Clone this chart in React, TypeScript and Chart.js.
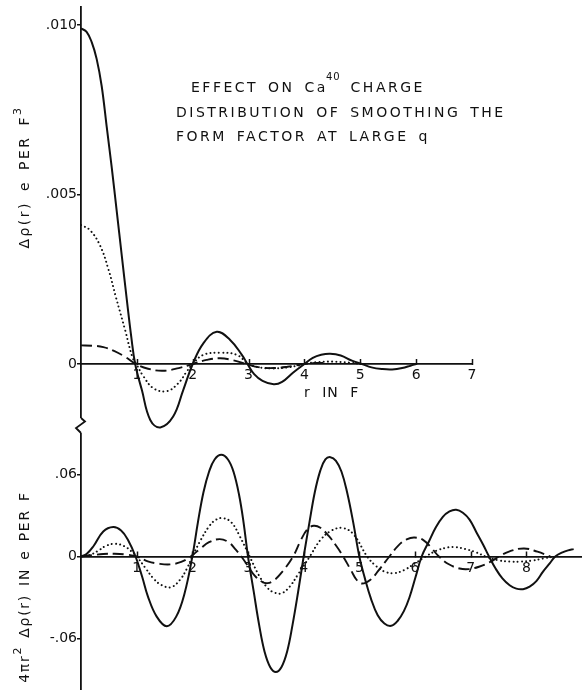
import React, { useEffect, useRef } from 'react';
import { Chart, registerables } from 'chart.js';

Chart.register(...registerables);

const FONT = 'DejaVu Sans';
const INK = '#111111';

// ---------- Top panel: Δρ(r) in e per F^3, r in F ----------
const topXTicks = [1, 2, 3, 4, 5, 6, 7];
const topYTicks = [0, 0.005, 0.01];
const topYTickLabels = ['0', '.005', '.010'];

const topSolid: [number, number][] = [
  [0, 0.0099], [0.1, 0.0098], [0.19, 0.0095], [0.28, 0.009], [0.37, 0.0082], [0.46, 0.007],
  [0.55, 0.0058], [0.64, 0.0045], [0.73, 0.0032], [0.82, 0.0019], [0.9, 0.0008], [0.97, 0],
  [1.09, -0.00077], [1.24, -0.00165], [1.42, -0.00187], [1.65, -0.00155], [1.83, -0.00077], [2.0, 0],
  [2.19, 0.00061], [2.43, 0.00095], [2.67, 0.00071], [2.88, 0.00027], [2.98, 0],
  [3.1, -0.0003], [3.25, -0.0005], [3.45, -0.0006], [3.6, -0.00053], [3.8, -0.00025], [4.0, 0],
  [4.15, 0.00018], [4.3, 0.00027], [4.46, 0.0003], [4.65, 0.00025], [4.85, 0.0001], [5.03, 0],
  [5.2, -0.0001], [5.4, -0.00015], [5.57, -0.00016], [5.75, -0.00012], [5.9, -0.00005], [6.0, 0],
];

const topDotted: [number, number][] = [
  [0, 0.0041], [0.16, 0.00395], [0.34, 0.0035], [0.49, 0.0028], [0.62, 0.002], [0.79, 0.001],
  [0.92, 0.0002], [0.99, 0], [1.12, -0.00037], [1.3, -0.00072], [1.54, -0.0008], [1.74, -0.00057],
  [1.89, -0.00023], [2.0, 0], [2.19, 0.00027], [2.49, 0.00033], [2.79, 0.00027], [3.0, 0],
  [3.2, -0.0001], [3.45, -0.00013], [3.7, -0.0001], [3.88, -0.00005], [4.0, 0],
  [4.2, 0.00005], [4.5, 0.00007], [4.8, 0.00004], [5.0, 0],
];

const topDashed: [number, number][] = [
  [0, 0.00055], [0.2, 0.00054], [0.4, 0.0005], [0.6, 0.00038], [0.8, 0.0002], [0.98, 0],
  [1.2, -0.00014], [1.47, -0.0002], [1.75, -0.00012], [2.0, 0], [2.25, 0.00012], [2.49, 0.00017],
  [2.75, 0.0001], [2.95, 0], [3.2, -0.0001], [3.45, -0.00012], [3.7, -0.00008], [4.0, 0],
  [4.2, 0.00003], [4.4, 0.00003],
];

// ---------- Bottom panel: 4πr² Δρ(r) in e per F ----------
const botXTicks = [1, 2, 3, 4, 5, 6, 7, 8];
const botYTicks = [-0.06, 0, 0.06];
const botYTickLabels = ['-.06', '0', '.06'];

const botSolid: [number, number][] = [
  [0, 0], [0.1, 0.0018], [0.22, 0.0073], [0.4, 0.0183], [0.58, 0.0215], [0.72, 0.019], [0.84, 0.0125],
  [0.98, 0], [1.1, -0.015], [1.2, -0.029], [1.36, -0.044], [1.54, -0.051], [1.71, -0.044],
  [1.86, -0.027], [2.0, 0], [2.1, 0.025], [2.2, 0.047], [2.3, 0.062], [2.4, 0.071], [2.52, 0.0744],
  [2.64, 0.071], [2.74, 0.062], [2.84, 0.045], [2.92, 0.025], [3.0, 0], [3.1, -0.025], [3.2, -0.05],
  [3.3, -0.07], [3.4, -0.081], [3.5, -0.0845], [3.6, -0.081], [3.7, -0.07], [3.8, -0.05],
  [3.9, -0.026], [4.0, 0], [4.1, 0.024], [4.2, 0.047], [4.3, 0.063], [4.39, 0.071], [4.48, 0.0727],
  [4.58, 0.07], [4.68, 0.062], [4.78, 0.047], [4.89, 0.025], [5.0, 0], [5.1, -0.016], [5.21, -0.031],
  [5.33, -0.043], [5.45, -0.049], [5.57, -0.0507], [5.69, -0.047], [5.8, -0.04], [5.9, -0.03],
  [6.01, -0.015], [6.12, 0], [6.25, 0.011], [6.37, 0.021], [6.5, 0.029], [6.62, 0.033],
  [6.74, 0.0342], [6.86, 0.032], [6.98, 0.027], [7.1, 0.018], [7.22, 0.009], [7.33, 0],
  [7.45, -0.009], [7.57, -0.016], [7.7, -0.021], [7.82, -0.0235], [7.94, -0.0239], [8.06, -0.022],
  [8.18, -0.018], [8.3, -0.011], [8.42, -0.005], [8.52, 0], [8.65, 0.003], [8.75, 0.0045],
  [8.85, 0.0054],
];

const botDotted: [number, number][] = [
  [0, 0], [0.15, 0.001], [0.3, 0.004], [0.45, 0.0078], [0.61, 0.0093], [0.78, 0.0075], [0.9, 0.004],
  [1.0, 0], [1.15, -0.008], [1.3, -0.016], [1.45, -0.021], [1.62, -0.0224], [1.78, -0.017],
  [1.9, -0.009], [2.0, 0], [2.15, 0.012], [2.3, 0.022], [2.42, 0.0268], [2.55, 0.0281], [2.7, 0.025],
  [2.85, 0.015], [3.03, 0], [3.2, -0.014], [3.35, -0.023], [3.48, -0.0265], [3.61, -0.0268],
  [3.75, -0.022], [3.9, -0.013], [4.11, 0], [4.3, 0.012], [4.5, 0.019], [4.71, 0.0208], [4.9, 0.016],
  [5.14, 0], [5.3, -0.007], [5.45, -0.011], [5.62, -0.0122], [5.8, -0.01], [6.0, -0.005], [6.19, 0],
  [6.4, 0.0045], [6.6, 0.0067], [6.73, 0.0069], [6.9, 0.0055], [7.1, 0.003], [7.27, 0],
  [7.5, -0.0028], [7.7, -0.0037], [7.9, -0.0037], [8.1, -0.003], [8.3, -0.0015], [8.5, 0],
];

const botDashed: [number, number][] = [
  [0, 0], [0.2, 0.001], [0.4, 0.0018], [0.6, 0.002], [0.8, 0.0015], [1.0, 0], [1.2, -0.0035],
  [1.4, -0.0053], [1.6, -0.0058], [1.8, -0.004], [1.97, 0], [2.15, 0.006], [2.3, 0.0105],
  [2.49, 0.0127], [2.65, 0.0105], [2.78, 0.005], [2.88, 0], [3.0, -0.007], [3.12, -0.014],
  [3.25, -0.0185], [3.35, -0.0195], [3.48, -0.017], [3.62, -0.011], [3.81, 0], [3.95, 0.012],
  [4.07, 0.02], [4.18, 0.0225], [4.3, 0.021], [4.45, 0.015], [4.6, 0.007], [4.71, 0],
  [4.85, -0.01], [4.95, -0.017], [5.05, -0.0198], [5.2, -0.017], [5.35, -0.01], [5.54, 0],
  [5.7, 0.008], [5.85, 0.0125], [5.99, 0.0139], [6.15, 0.012], [6.3, 0.006], [6.43, 0],
  [6.6, -0.0055], [6.8, -0.0088], [6.97, -0.0092], [7.15, -0.0075], [7.35, -0.004], [7.51, 0],
  [7.7, 0.0038], [7.96, 0.0059], [8.2, 0.0035], [8.43, 0],
];

// ---------- chart helpers ----------
const xTickMarks = {
  id: 'xTickMarks',
  afterDraw(chart: any) {
    const xs = chart.scales.x;
    const ys = chart.scales.y;
    const y0 = ys.getPixelForValue(0);
    const ctx = chart.ctx;
    ctx.save();
    ctx.strokeStyle = INK;
    ctx.lineWidth = 1.5;
    xs.ticks.forEach((t: any) => {
      const px = Math.round(xs.getPixelForValue(t.value)) + 0.5;
      ctx.beginPath();
      ctx.moveTo(px, y0 - 5);
      ctx.lineTo(px, y0 + 1);
      ctx.stroke();
    });
    ctx.restore();
  },
};

const axisBreak = {
  id: 'axisBreak',
  afterDraw(chart: any) {
    const { ctx, chartArea } = chart;
    const x = chartArea.left;
    const y = chartArea.bottom - 17;
    ctx.save();
    ctx.fillStyle = '#ffffff';
    ctx.fillRect(x - 3, y, 6, 15);
    ctx.strokeStyle = INK;
    ctx.lineWidth = 1.8;
    ctx.beginPath();
    ctx.moveTo(x, y);
    ctx.lineTo(x + 4, y + 3.5);
    ctx.lineTo(x - 5, y + 10);
    ctx.lineTo(x, y + 15);
    ctx.stroke();
    ctx.restore();
  },
};

function zeroPad(s: any) {
  s.paddingLeft = 0;
  s.paddingRight = 0;
  s.paddingTop = 0;
  s.paddingBottom = 0;
}

function makeConfig(opts: {
  solid: [number, number][];
  dotted: [number, number][];
  dashed: [number, number][];
  xMax: number;
  yMin: number;
  yMax: number;
  xTicks: number[];
  yTicks: number[];
  yLabels: string[];
  padTop: number;
  padRight: number;
  withBreak: boolean;
}): any {
  const toPts = (a: [number, number][]) => a.map(([x, y]) => ({ x, y }));
  const common = {
    pointRadius: 0,
    pointHoverRadius: 0,
    fill: false,
    tension: 0.4,
    borderColor: INK,
  };
  return {
    type: 'line',
    data: {
      datasets: [
        { ...common, label: 'solid', data: toPts(opts.solid), borderWidth: 2 },
        {
          ...common,
          label: 'dotted',
          data: toPts(opts.dotted),
          borderWidth: 2,
          borderDash: [0.01, 4.2],
          borderCapStyle: 'round',
        },
        {
          ...common,
          label: 'dashed',
          data: toPts(opts.dashed),
          borderWidth: 1.9,
          borderDash: [11, 5],
        },
      ],
    },
    options: {
      animation: false,
      responsive: false,
      maintainAspectRatio: false,
      events: [],
      layout: { padding: { left: 0, right: opts.padRight, top: opts.padTop, bottom: 0 } },
      plugins: {
        legend: { display: false },
        tooltip: { enabled: false },
        title: { display: false },
      },
      scales: {
        x: {
          type: 'linear',
          min: 0,
          max: opts.xMax,
          position: { y: 0 },
          grid: { display: false, drawTicks: false, drawOnChartArea: false },
          border: { display: true, color: INK, width: 1.8 },
          ticks: {
            color: INK,
            font: { family: FONT, size: 14 },
            padding: 3,
            autoSkip: false,
            maxRotation: 0,
          },
          afterBuildTicks: (s: any) => {
            s.ticks = opts.xTicks.map((v) => ({ value: v }));
          },
          afterFit: zeroPad,
        },
        y: {
          type: 'linear',
          min: opts.yMin,
          max: opts.yMax,
          position: 'left',
          grid: {
            display: true,
            drawOnChartArea: false,
            drawTicks: true,
            tickLength: 4,
            color: INK,
            lineWidth: 1.5,
          },
          border: { display: true, color: INK, width: 1.8 },
          ticks: {
            color: INK,
            font: { family: FONT, size: 14 },
            padding: 0,
            autoSkip: false,
            callback: (v: number) => {
              let best = 0;
              opts.yTicks.forEach((t, i) => {
                if (Math.abs(t - v) < Math.abs(opts.yTicks[best] - v)) best = i;
              });
              return opts.yLabels[best];
            },
          },
          afterBuildTicks: (s: any) => {
            s.ticks = opts.yTicks.map((v) => ({ value: v }));
          },
          afterFit: (s: any) => {
            s.width = 81;
            zeroPad(s);
          },
        },
      },
    },
    plugins: opts.withBreak ? [xTickMarks, axisBreak] : [xTickMarks],
  };
}

function Panel(props: { top: number; height: number; build: () => any }) {
  const ref = useRef<HTMLCanvasElement>(null);
  useEffect(() => {
    const chart = new Chart(ref.current as HTMLCanvasElement, props.build());
    return () => chart.destroy();
  }, []);
  return (
    <canvas
      ref={ref}
      width={582}
      height={props.height}
      style={{ position: 'absolute', left: 0, top: props.top, width: 582, height: props.height, display: 'block' }}
    />
  );
}

const textBase: React.CSSProperties = {
  position: 'absolute',
  fontFamily: FONT,
  fontSize: 14,
  color: INK,
  whiteSpace: 'nowrap',
  letterSpacing: '2.5px',
  wordSpacing: '3px',
  lineHeight: '24px',
};

export default function App() {
  return (
    <div
      style={{
        position: 'absolute',
        left: 0,
        top: 0,
        width: 582,
        height: 690,
        background: '#ffffff',
        overflow: 'hidden',
      }}
    >
      <Panel
        top={0}
        height={435}
        build={() =>
          makeConfig({
            solid: topSolid,
            dotted: topDotted,
            dashed: topDashed,
            xMax: 7,
            yMin: -0.0020944,
            yMax: 0.010531,
            xTicks: topXTicks,
            yTicks: topYTicks,
            yLabels: topYTickLabels,
            padTop: 7,
            padRight: 110,
            withBreak: true,
          })
        }
      />
      <Panel
        top={435}
        height={255}
        build={() =>
          makeConfig({
            solid: botSolid,
            dotted: botDotted,
            dashed: botDashed,
            xMax: 9,
            yMin: -0.09768,
            yMax: 0.0889,
            xTicks: botXTicks,
            yTicks: botYTicks,
            yLabels: botYTickLabels,
            padTop: 0,
            padRight: 0,
            withBreak: false,
          })
        }
      />

      {/* Title */}
      <div style={{ ...textBase, left: 191, top: 75 }}>
        EFFECT ON C<span style={{ letterSpacing: '0.5px' }}>a</span>
        <span style={{ fontSize: 10, position: 'relative', top: -12, letterSpacing: '1px' }}>40</span>{' '}
        CHARGE
      </div>
      <div style={{ ...textBase, left: 176, top: 100 }}>DISTRIBUTION OF SMOOTHING THE</div>
      <div style={{ ...textBase, left: 176, top: 124 }}>FORM FACTOR AT LARGE q</div>

      {/* x-axis label of the top panel */}
      <div style={{ ...textBase, left: 304, top: 385, lineHeight: '14px', letterSpacing: '1px', wordSpacing: '6px' }}>
        r IN F
      </div>

      {/* y-axis titles */}
      <div
        style={{
          ...textBase,
          left: 25,
          top: 177,
          lineHeight: '16px',
          transform: 'translate(-50%, -50%) rotate(-90deg)',
        }}
      >
        Δρ(r) e PER F
        <span style={{ fontSize: 11, position: 'relative', top: -8 }}>3</span>
      </div>
      <div
        style={{
          ...textBase,
          left: 25,
          top: 587,
          lineHeight: '16px',
          letterSpacing: '1.7px',
          wordSpacing: '2px',
          transform: 'translate(-50%, -50%) rotate(-90deg)',
        }}
      >
        4πr<span style={{ fontSize: 11, position: 'relative', top: -8 }}>2</span> Δρ(r) IN e PER F
      </div>
    </div>
  );
}
